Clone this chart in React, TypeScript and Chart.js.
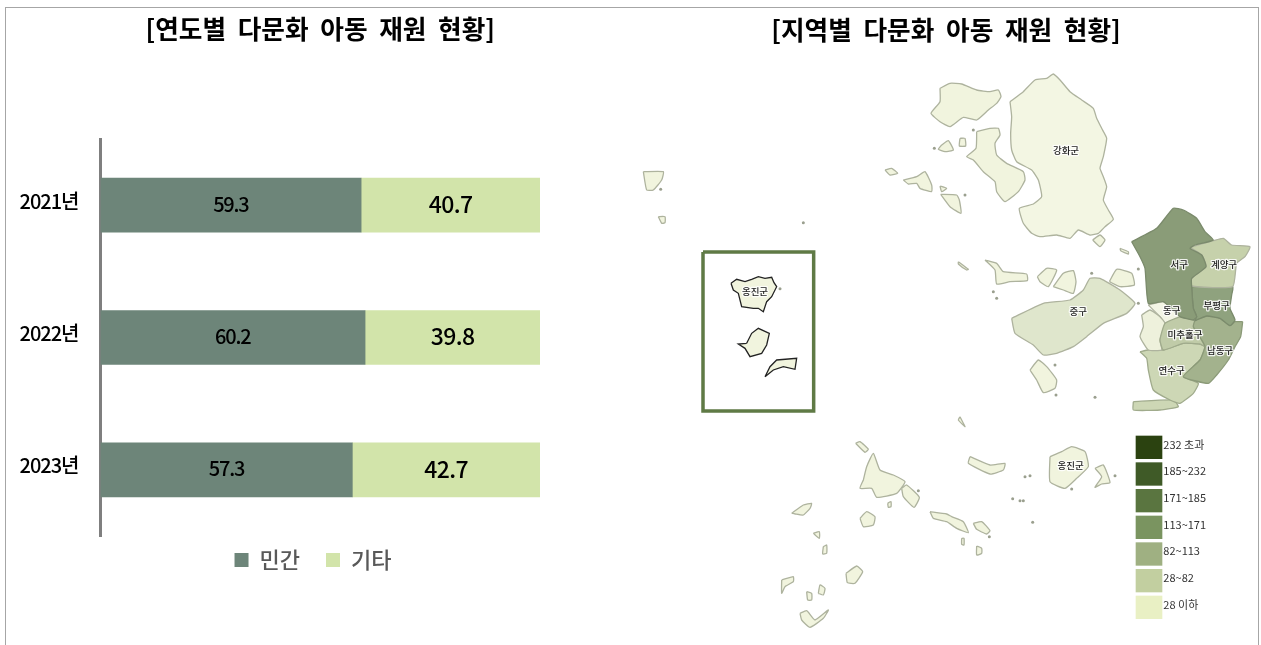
import React, { useEffect, useRef } from "react";
import { Chart, registerables } from "chart.js";

Chart.register(...registerables);

const FONT = "'Noto Sans CJK KR', 'Noto Sans', sans-serif";

const years = ["2021년", "2022년", "2023년"];
const privateShare = [59.3, 60.2, 57.3];
const otherShare = [40.7, 39.8, 42.7];
const leftTitle = "[연도별  다문화  아동  재원  현황]";
const rightTitle = "[지역별  다문화  아동  재원  현황]";

const legendBins = ["232 초과", "185~232", "171~185", "113~171", "82~113", "28~82", "28 이하"];
const legendColors = ["#2b4210", "#3f5a27", "#5a7540", "#7a9460", "#9fb082", "#c2cfa0", "#e9f0c4"];

type P = [number, number];

const ganghwa: P[] = [[330,125],[370,95],[405,60],[440,55],[460,42],[480,60],[510,95],[545,120],[580,145],[590,175],[605,205],[620,235],[610,290],[600,325],[610,350],[620,380],[610,420],[625,450],[640,478],[615,500],[595,520],[570,525],[535,510],[510,535],[470,525],[420,530],[395,520],[370,490],[358,445],[400,432],[425,410],[415,360],[395,330],[350,305],[335,270],[332,220],[335,170]];
const gyodong: P[] = [[120,85],[150,70],[185,72],[230,90],[270,95],[295,90],[303,110],[290,130],[265,150],[230,180],[190,172],[150,200],[120,185],[93,160],[120,125]];
const seokmo: P[] = [[230,215],[270,205],[295,205],[300,225],[285,250],[290,285],[320,310],[370,335],[375,360],[355,395],[315,425],[290,395],[285,365],[250,335],[220,300],[200,290],[228,265]];
const seoGu: P[] = [[695,545],[770,505],[820,445],[850,450],[890,475],[915,515],[940,540],[885,555],[870,565],[905,585],[918,620],[875,655],[875,680],[880,745],[890,770],[880,780],[840,770],[790,725],[745,730],[735,625],[720,590]];
const gyeyang: P[] = [[870,562],[940,542],[970,535],[995,555],[1050,560],[1035,590],[1010,610],[998,680],[875,678],[875,655],[918,620],[905,585]];
const bupyeong: P[] = [[875,680],[998,680],[995,705],[990,745],[1005,780],[990,797],[960,775],[920,768],[885,782],[890,770],[880,745]];
const namdong: P[] = [[1028,785],[1022,830],[1005,860],[985,900],[950,945],[925,970],[850,950],[900,900],[915,860],[905,840],[880,800],[885,782],[920,768],[960,775],[990,797],[1005,785]];
const michuhol: P[] = [[840,770],[880,780],[885,785],[905,840],[915,860],[900,852],[850,850],[790,870],[780,840],[795,790]];
const dongGu: P[] = [[745,735],[790,725],[840,770],[795,790],[780,770]];
const harbor: P[] = [[725,765],[750,750],[780,770],[795,790],[780,840],[785,870],[745,870],[720,830],[730,800]];
const yeonsu: P[] = [[720,875],[745,870],[790,870],[850,850],[900,852],[915,860],[900,900],[850,950],[895,970],[880,1000],[840,1030],[810,1020],[760,990],[745,930],[740,895]];
const songdoStrip: P[] = [[700,1025],[820,1020],[835,1040],[780,1050],[700,1050]];
const yeongjong: P[] = [[335,775],[430,730],[510,720],[550,690],[570,655],[600,655],[660,690],[705,730],[680,760],[610,790],[560,830],[520,860],[470,880],[430,885],[400,855],[345,820]];
const baengnyeong: P[] = [[-507,670],[-490,658],[-465,665],[-445,658],[-425,650],[-405,655],[-385,652],[-378,668],[-370,680],[-385,710],[-400,725],[-410,755],[-425,745],[-440,745],[-475,740],[-485,700],[-500,690]];
const daecheong: P[] = [[-460,850],[-445,820],[-425,805],[-392,820],[-400,855],[-415,880],[-450,890],[-465,865],[-485,852]];
const socheong: P[] = [[-405,950],[-390,920],[-370,900],[-310,895],[-315,928],[-350,920],[-380,930]];
const insetFrame: P[] = [[-591,576],[-259,576],[-259,1053],[-591,1053]];

const paleIslands: P[][] = [
  gyodong, seokmo,
  [[125,255],[145,242],[160,270],[135,275],[115,268]],
  [[180,235],[195,235],[197,258],[178,258]],
  [[10,360],[50,350],[75,335],[95,375],[95,395],[60,385],[50,370],[25,372]],
  [[120,378],[140,385],[125,395]],
  [[122,403],[170,405],[178,420],[183,460],[150,440]],
  [[578,540],[600,525],[615,540],[600,560]],
  [[390,930],[415,900],[440,920],[470,960],[465,985],[430,998],[410,960]],
  [[255,600],[290,610],[310,635],[380,642],[382,662],[330,665],[290,672],[285,630]],
  [[412,650],[440,625],[470,630],[445,680],[420,665]],
  [[460,680],[490,640],[520,632],[528,665],[520,700],[490,690]],
  [[628,665],[650,628],[695,640],[703,675],[660,680]],
  [[660,565],[685,575],[685,582],[662,572]],
  [[175,605],[205,628],[200,630],[175,612]],
  [[-770,335],[-710,335],[-715,360],[-740,390],[-760,390]],
  [[-725,470],[-705,470],[-705,488],[-715,490]],
  [[-45,330],[-25,325],[-7,340],[-30,345]],
  [[-110,1260],[-100,1220],[-80,1180],[-60,1230],[-20,1245],[15,1265],[-10,1300],[-70,1312],[-85,1285],[-120,1285]],
  [[5,1285],[20,1275],[58,1312],[42,1342],[10,1310]],
  [[-133,1150],[-120,1145],[-95,1168],[-105,1177]],
  [[210,1190],[270,1215],[315,1210],[310,1230],[270,1242],[205,1210]],
  [[450,1190],[485,1175],[515,1160],[555,1175],[565,1220],[530,1255],[495,1285],[450,1265]],
  [[585,1225],[610,1215],[630,1268],[605,1272],[585,1282],[605,1250]],
  [[-120,1375],[-100,1355],[-75,1370],[-80,1395],[-110,1400]],
  [[-325,1360],[-290,1335],[-265,1330],[-270,1345],[-290,1365],[-315,1362]],
  [[90,1355],[140,1362],[155,1370],[190,1385],[205,1418],[170,1405],[140,1385],[100,1375]],
  [[220,1390],[245,1385],[270,1412],[260,1422],[230,1408]],
  [[-162,1540],[-130,1518],[-112,1535],[-135,1570],[-158,1568]],
  [[-230,1460],[-220,1455],[-220,1480],[-232,1482]],
  [[-355,1560],[-320,1550],[-320,1565],[-345,1580],[-355,1600]],
  [[-245,1600],[-240,1575],[-225,1585],[-230,1605]],
  [[-300,1660],[-280,1652],[-255,1680],[-215,1650],[-230,1675],[-270,1702],[-295,1680]],
  [[-280,1595],[-265,1600],[-265,1620],[-277,1620]],
  [[-260,1420],[-242,1415],[-242,1435]],
  [[180,1070],[190,1090],[195,1100],[175,1080]],
  [[-37,1330],[-27,1325],[-27,1340],[-35,1342]],
  [[185,1435],[192,1435],[192,1455],[185,1453]],
  [[230,1458],[245,1465],[245,1480],[230,1485]],
];

const inletIslands: P[][] = [baengnyeong, daecheong, socheong];
const tinyIslets: P[] = [[375,1250],[390,1247],[338,1316],[360,1322],[370,1322],[398,1387],[515,1287],[645,1247],[268,1430],[55,1292],[220,210],[103,265],[195,405],[290,715],[280,695],[715,627],[575,640],[715,730],[465,915],[468,1005],[585,1012],[-290,488],[-718,388],[-360,686]];

const districtNames = ["강화군", "서구", "계양구", "부평구", "동구", "미추홀구", "남동구", "연수구", "중구", "옹진군", "옹진군"];
const districtAnchors: P[] = [[498,272],[838,612],[972,612],[950,735],[815,752],[855,822],[960,870],[815,930],[535,755],[-435,693],[512,1215]];

const toPoints = (shape: P[]) => [...shape, shape[0]].map(([x, y]) => ({ x, y }));

const shapeSet = (shape: P[], fill: string, stroke: string, width = 1.3, tension = 0.15) => ({
  data: toPoints(shape),
  backgroundColor: fill,
  borderColor: stroke,
  borderWidth: width,
  pointRadius: 0,
  tension,
  fill: "shape",
  showLine: true,
});

const barLabelPlugin = {
  id: "barLabels",
  beforeDraw(chart: any) {
    const y = chart.scales.y;
    if (!y.__wrapped) {
      const original = y.drawLabels;
      y.drawLabels = function (area: any) {
        chart.ctx.letterSpacing = "-1px";
        original.call(this, area);
        chart.ctx.letterSpacing = "0px";
      };
      y.__wrapped = true;
    }
  },
  afterLayout(chart: any) {
    chart.legend.top -= 13;
    chart.legend.bottom -= 13;
    chart.legend.left += 40;
    chart.legend.right += 40;
  },
  afterDatasetsDraw(chart: any) {
    const { ctx } = chart;
    chart.data.datasets.forEach((ds: any, di: number) => {
      chart.getDatasetMeta(di).data.forEach((bar: any, i: number) => {
        const c = bar.getCenterPoint();
        ctx.save();
        ctx.font = `500 ${di === 0 ? 20 : 23}px ${FONT}`;
        ctx.letterSpacing = di === 0 ? "-1.2px" : "-0.6px";
        ctx.fillStyle = "#000";
        ctx.textAlign = "center";
        ctx.textBaseline = "middle";
        ctx.fillText(String(ds.data[i].toFixed(1)), c.x, c.y - 1);
        ctx.restore();
      });
    });
  },
};

const mapTextPlugin = {
  id: "mapText",
  afterDatasetsDraw(chart: any) {
    const { ctx, scales } = chart;
    const X = (v: number) => scales.x.getPixelForValue(v);
    const Y = (v: number) => scales.y.getPixelForValue(v);
    ctx.save();
    ctx.textBaseline = "middle";
    ctx.textAlign = "center";
    ctx.font = `bold 25.7px ${FONT}`;
    ctx.fillStyle = "#000";
    ctx.fillText(rightTitle, X(138), Y(-90));

    ctx.font = `500 9.5px ${FONT}`;
    ctx.lineJoin = "round";
    districtNames.forEach((name, i) => {
      const [ax, ay] = districtAnchors[i];
      ctx.lineWidth = 2.5;
      ctx.strokeStyle = "rgba(255,255,255,0.85)";
      ctx.strokeText(name, X(ax), Y(ay));
      ctx.fillStyle = "#222";
      ctx.fillText(name, X(ax), Y(ay));
    });

    ctx.textAlign = "left";
    ctx.font = `11px ${FONT}`;
    legendBins.forEach((bin, i) => {
      const top = 1127 + i * 80;
      ctx.fillStyle = legendColors[i];
      ctx.fillRect(X(707), Y(top), X(787) - X(707), Y(top + 70) - Y(top));
      ctx.fillStyle = "#333";
      ctx.fillText(bin, X(790), Y(top + 26));
    });
    ctx.restore();
  },
};

export default function App() {
  const barRef = useRef<HTMLCanvasElement>(null);
  const mapRef = useRef<HTMLCanvasElement>(null);

  useEffect(() => {
    const bar = new Chart(barRef.current!, {
      type: "bar",
      data: {
        labels: years,
        datasets: [
          { label: "민간", data: privateShare, backgroundColor: "#6d8579", barThickness: 54 },
          { label: "기타", data: otherShare, backgroundColor: "#d2e4aa", barThickness: 54 },
        ],
      },
      options: {
        indexAxis: "y",
        responsive: false,
        animation: false,
        layout: { padding: { right: 80, bottom: 51 } },
        scales: {
          x: { stacked: true, min: 0, max: 100, display: false },
          y: {
            stacked: true,
            grid: { display: false, drawTicks: false },
            border: { display: true, color: "#7f7f7f", width: 3 },
            afterFit: (s: any) => { s.width = 94.5; },
            ticks: { color: "#000", padding: 22, labelOffset: -4, font: { family: FONT, size: 20, weight: "500" } },
          },
        },
        plugins: {
          title: {
            display: true,
            text: leftTitle,
            fullSize: false,
            color: "#000",
            font: { family: FONT, size: 25.7, weight: "bold" },
            padding: { top: 6, bottom: 94.2 },
          },
          legend: {
            position: "bottom",
            labels: {
              color: "#595959",
              boxWidth: 14,
              boxHeight: 14,
              padding: 26,
              font: { family: FONT, size: 22, weight: "500" },
            },
          },
          tooltip: { enabled: false },
        },
      },
      plugins: [barLabelPlugin],
    } as any);

    const map = new Chart(mapRef.current!, {
      type: "line",
      data: {
        datasets: [
          shapeSet(ganghwa, "#f3f6e3", "#aeb39e"),
          ...paleIslands.map((s) => shapeSet(s, "#f1f4de", "#aeb39e")),
          shapeSet(yeongjong, "#dfe6cc", "#aeb39e"),
          shapeSet(seoGu, "#8a9c78", "#7b8b6c"),
          shapeSet(gyeyang, "#c6d1ab", "#aeb39e"),
          shapeSet(bupyeong, "#8fa27e", "#7b8b6c"),
          shapeSet(namdong, "#a3b28d", "#8b9a78"),
          shapeSet(michuhol, "#c0cba8", "#a0ab8c"),
          shapeSet(harbor, "#eef1dc", "#aeb39e"),
          shapeSet(dongGu, "#f3f5e5", "#aeb39e"),
          shapeSet(yeonsu, "#cdd7b5", "#a0ab8c"),
          shapeSet(songdoStrip, "#cdd7b5", "#a0ab8c"),
          ...inletIslands.map((s) => shapeSet(s, "#f1f4de", "#222", 1.3, 0)),
          shapeSet(insetFrame, "rgba(0,0,0,0)", "#5f7a45", 3.5, 0),
          {
            data: tinyIslets.map(([x, y]) => ({ x, y })),
            showLine: false,
            pointRadius: 1.5,
            pointBorderWidth: 0,
            pointBackgroundColor: "#9a9f8e",
          },
        ],
      },
      options: {
        responsive: false,
        animation: false,
        layout: { padding: 0, autoPadding: false },
        scales: {
          x: { type: "linear", min: -840, max: 1080, display: false },
          y: { type: "linear", min: -156, max: 1755, reverse: true, display: false },
        },
        plugins: { legend: { display: false }, tooltip: { enabled: false }, title: { display: false } },
      },
      plugins: [mapTextPlugin],
    } as any);

    return () => {
      bar.destroy();
      map.destroy();
    };
  }, []);

  return (
    <div style={{ position: "absolute", left: 0, top: 0, width: 1261, height: 645, overflow: "hidden", background: "#fff" }}>
      <div style={{ position: "absolute", left: 5, top: 7, width: 1254, height: 660, border: "1px solid #a6a6a6", boxSizing: "border-box" }} />
      <canvas ref={barRef} width={614} height={637} style={{ position: "absolute", left: 6, top: 8, display: "block" }} />
      <canvas ref={mapRef} width={640} height={637} style={{ position: "absolute", left: 620, top: 8, display: "block" }} />
    </div>
  );
}
